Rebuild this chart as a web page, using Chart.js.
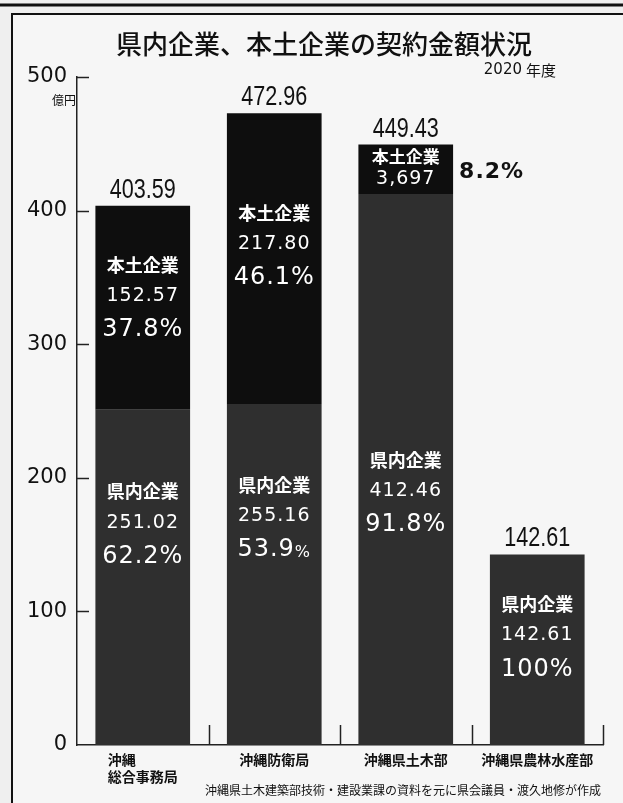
<!DOCTYPE html>
<html>
<head>
<meta charset="utf-8">
<script src="https://cdn.jsdelivr.net/npm/chart.js@4.4.1/dist/chart.umd.min.js"></script>
<style>
  html, body { margin: 0; padding: 0; background: #efefef; }
  #wrap { width: 623px; height: 803px; position: relative; }
</style>
</head>
<body>
<div id="wrap"><canvas id="chart" width="623" height="803"></canvas></div>
<script>
// データ（億円）
const categories = [["沖縄\u3000\u3000\u3000", "総合事務局"], "沖縄防衛局", "沖縄県土木部", "沖縄県農林水産部"];
const kennai = [251.02, 255.16, 412.46, 142.61];   // 県内企業
const hondo = [152.57, 217.80, 36.97, 0];           // 本土企業
const totals = ["403.59", "472.96", "449.43", "142.61"];
const kennaiText = ["251.02", "255.16", "412.46", "142.61"];
const hondoText = ["152.57", "217.80", "3,697", ""];
const kennaiPct = ["62.2%", "53.9%", "91.8%", "100%"];
const hondoPct = ["37.8%", "46.1%", "8.2%", ""];
const yTicks = [0, 100, 200, 300, 400, 500];

// ラベル位置（セグメント上端からのオフセット）
const kennaiOffset = [82, 81, 266, 50];
const hondoOffset = [59, 100, 12, 0];
const lineGap = [0, 31, 65];

const CJK = '"Noto Sans CJK JP", "Noto Sans CJK SC", sans-serif';
const NUM = '"DejaVu Sans", sans-serif';
const SANS = '"Liberation Sans", Arial, sans-serif';

const bgPlugin = {
  id: "bg",
  beforeDraw(chart) {
    const ctx = chart.ctx;
    ctx.save();
    ctx.fillStyle = "#efefef";
    ctx.fillRect(0, 0, chart.width, chart.height);
    ctx.fillStyle = "#f6f6f6";
    ctx.fillRect(13, 14, chart.width - 13, chart.height - 14);
    ctx.restore();
  },
};

function drawBlock(ctx, x, y, name, num, pct, smallPct) {
  ctx.fillStyle = "#fff";
  ctx.textAlign = "center";
  ctx.textBaseline = "middle";
  ctx.letterSpacing = "0px";
  ctx.font = "bold 18px " + CJK;
  ctx.fillText(name, x, y + lineGap[0]);
  ctx.letterSpacing = "1px";
  ctx.font = "19px " + NUM;
  ctx.fillText(num, x, y + lineGap[1]);
  if (pct) {
    if (smallPct) {
      const main = pct.replace("%", "");
      ctx.font = "24px " + NUM;
      const w1 = ctx.measureText(main).width;
      ctx.font = "16px " + NUM;
      const w2 = ctx.measureText("%").width;
      const left = x - (w1 + w2) / 2;
      ctx.textAlign = "left";
      ctx.font = "24px " + NUM;
      ctx.fillText(main, left, y + lineGap[2]);
      ctx.font = "16px " + NUM;
      ctx.fillText("%", left + w1, y + lineGap[2] + 3);
    } else {
      ctx.font = "24px " + NUM;
      ctx.fillText(pct, x, y + lineGap[2]);
    }
  }
  ctx.letterSpacing = "0px";
}

const labelPlugin = {
  id: "labels",
  afterDatasetsDraw(chart) {
    const ctx = chart.ctx;
    const area = chart.chartArea;
    const yScale = chart.scales.y;
    const xScale = chart.scales.x;
    const mK = chart.getDatasetMeta(0);
    const mH = chart.getDatasetMeta(1);
    ctx.save();

    // 内向きの目盛り
    ctx.strokeStyle = "#222";
    ctx.lineWidth = 1.5;
    yTicks.forEach((v) => {
      if (v === 0) return;
      const py = Math.round(yScale.getPixelForValue(v)) + 0.5;
      ctx.beginPath();
      ctx.moveTo(area.left, py);
      ctx.lineTo(area.left + 12, py);
      ctx.stroke();
    });
    for (let i = 0; i < categories.length; i++) {
      const px = i < categories.length - 1
        ? (xScale.getPixelForValue(i) + xScale.getPixelForValue(i + 1)) / 2
        : area.right;
      ctx.beginPath();
      ctx.moveTo(Math.round(px) + 0.5, area.bottom);
      ctx.lineTo(Math.round(px) + 0.5, area.bottom - 20);
      ctx.stroke();
    }

    mK.data.forEach((bar, i) => {
      const hBar = mH.data[i];
      // 合計（縦長の数字）
      ctx.save();
      ctx.fillStyle = "#111";
      ctx.textAlign = "center";
      ctx.textBaseline = "alphabetic";
      ctx.font = "27px " + SANS;
      ctx.translate(bar.x, hBar.y - 8);
      ctx.scale(0.8, 1);
      ctx.fillText(totals[i], 0, 0);
      ctx.restore();

      // 県内企業
      drawBlock(ctx, bar.x, bar.y + kennaiOffset[i], "県内企業", kennaiText[i], kennaiPct[i], i === 1);

      // 本土企業
      if (hondo[i] > 0) {
        if (i === 2) {
          ctx.fillStyle = "#fff";
          ctx.textAlign = "center";
          ctx.textBaseline = "middle";
          ctx.font = "bold 17px " + CJK;
          ctx.fillText("本土企業", hBar.x, hBar.y + 12);
          ctx.letterSpacing = "1px";
          ctx.font = "19px " + NUM;
          ctx.fillText(hondoText[i], hBar.x, hBar.y + 35);
          ctx.fillStyle = "#111";
          ctx.textAlign = "left";
          ctx.font = "bold 22px " + NUM;
          ctx.fillText(hondoPct[i], hBar.x + hBar.width / 2 + 6, hBar.y + 28);
          ctx.letterSpacing = "0px";
        } else {
          drawBlock(ctx, hBar.x, hBar.y + hondoOffset[i], "本土企業", hondoText[i], hondoPct[i], false);
        }
      }
    });
    ctx.restore();
  },
  afterDraw(chart) {
    const ctx = chart.ctx;
    ctx.save();
    // 枠線
    ctx.strokeStyle = "#111";
    ctx.lineWidth = 3;
    ctx.beginPath();
    ctx.moveTo(0, 5);
    ctx.lineTo(chart.width, 5);
    ctx.stroke();
    ctx.lineWidth = 2;
    ctx.beginPath();
    ctx.moveTo(chart.width, 14);
    ctx.lineTo(12, 14);
    ctx.lineTo(12, chart.height);
    ctx.stroke();

    // タイトル
    ctx.fillStyle = "#111";
    ctx.textAlign = "center";
    ctx.textBaseline = "middle";
    ctx.font = "500 26px " + CJK;
    ctx.fillText("県内企業、本土企業の契約金額状況", 324, 44);
    ctx.textAlign = "right";
    ctx.font = "15px " + CJK;
    ctx.fillText("年度", 556, 70);
    const wNendo = ctx.measureText("年度").width;
    ctx.font = "15px " + NUM;
    ctx.fillText("2020", 556 - wNendo - 4, 70);
    ctx.font = "12px " + CJK;
    ctx.fillText("億円", 76, 100);
    // 出典
    ctx.font = "12px " + CJK;
    ctx.fillText("沖縄県土木建築部技術・建設業課の資料を元に県会議員・渡久地修が作成", 601, 790);
    ctx.restore();
  },
};

new Chart(document.getElementById("chart"), {
  type: "bar",
  data: {
    labels: categories,
    datasets: [
      {
        label: "県内企業",
        data: kennai,
        backgroundColor: "#2f2f2f",
        borderWidth: 0,
        barPercentage: 0.72,
        categoryPercentage: 1,
      },
      {
        label: "本土企業",
        data: hondo,
        backgroundColor: "#0e0e0e",
        borderWidth: 0,
        barPercentage: 0.72,
        categoryPercentage: 1,
      },
    ],
  },
  options: {
    responsive: false,
    animation: false,
    layout: { padding: { left: 0, right: 20, top: 77, bottom: 0 } },
    plugins: {
      legend: { display: false },
      tooltip: { enabled: false },
    },
    scales: {
      x: {
        stacked: true,
        grid: { display: false, drawTicks: false },
        border: { display: true, color: "#222", width: 1.5 },
        ticks: {
          color: "#111",
          font: { family: CJK, size: 14, weight: "bold" },
          padding: 6,
          maxRotation: 0,
          autoSkip: false,
        },
        afterFit(scale) { scale.height = 58; },
      },
      y: {
        stacked: true,
        min: 0,
        max: 500,
        grid: { display: false, drawTicks: false },
        border: { display: true, color: "#222", width: 1.5 },
        ticks: {
          stepSize: 100,
          color: "#111",
          font: { family: NUM, size: 21 },
          padding: 10,
        },
        afterBuildTicks(scale) {
          scale.ticks = yTicks.map((v) => ({ value: v }));
        },
        afterFit(scale) { scale.width = 77; },
      },
    },
  },
  plugins: [bgPlugin, labelPlugin],
});
</script>
</body>
</html>
